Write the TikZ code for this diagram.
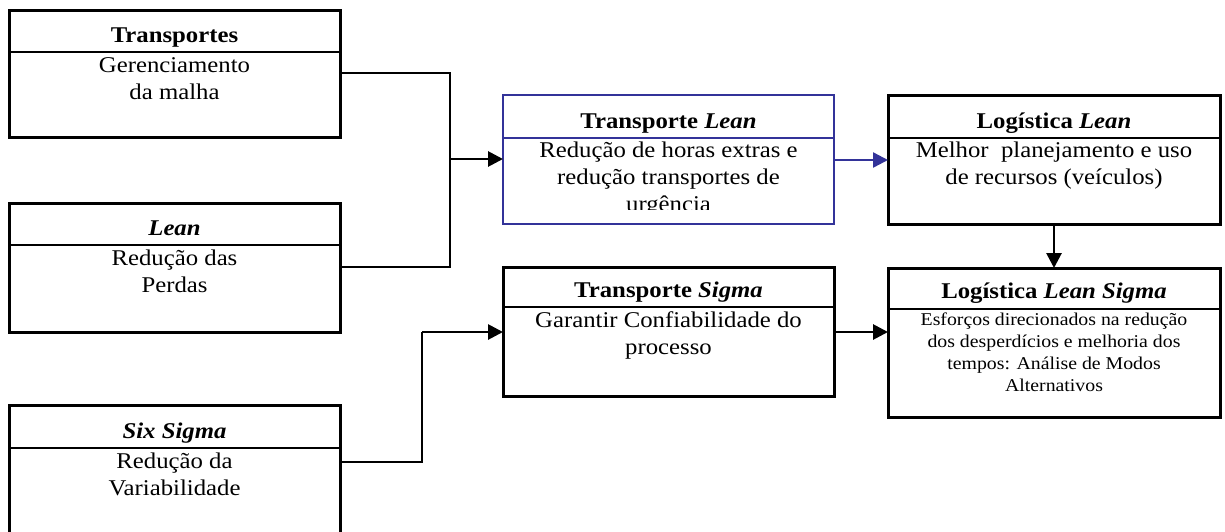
\documentclass[tikz,border=0pt]{standalone}
\usepackage{fontspec}
\setmainfont{Liberation Serif}[FakeStretch=1.1]
\usetikzlibrary{arrows.meta}
\definecolor{navy}{RGB}{51,51,153}
\tikzset{
  box/.style={draw, line width=3pt, fill=white, inner sep=0pt, outer sep=0pt, anchor=north west},
  divider/.style={line width=2.2pt},
  title/.style={anchor=base, inner sep=0pt, font=\fontsize{22.5}{27}\selectfont\bfseries},
  body/.style={anchor=base, inner sep=0pt, font=\fontsize{22.5}{27}\selectfont},
  smallbody/.style={anchor=base, inner sep=0pt, font=\fontsize{18}{22}\selectfont},
  conn/.style={line width=2.8pt, line join=miter},
  arr/.style={conn, -{Triangle[length=15pt,width=15pt]}}
}
\newcommand{\lines}[1]{\parbox[t]{320pt}{\centering #1}}
\begin{document}
\begin{tikzpicture}[x=1pt,y=-1pt]
\clip (0,0) rectangle (1225,531);

% left column: three source boxes
\node[box, minimum width=331pt, minimum height=127pt] (transp) at (9,10) {};
\draw[divider] (transp.west |- 0,52) -- (transp.east |- 0,52);
\node[title] (transpT) at (174.5,42) {Transportes};
\node[body] (transpB) at (174.5,72) {\lines{Gerenciamento\\da malha}};

\node[box, minimum width=331pt, minimum height=129pt] (lean) at (9,203) {};
\draw[divider] (lean.west |- 0,245) -- (lean.east |- 0,245);
\node[title] (leanT) at (174.5,235) {\itshape Lean};
\node[body] (leanB) at (174.5,265) {\lines{Redução das\\Perdas}};

\node[box, minimum width=331pt, minimum height=160pt] (six) at (9,405) {};
\draw[divider] (six.west |- 0,448) -- (six.east |- 0,448);
\node[title] (sixT) at (174.5,438) {\itshape Six Sigma};
\node[body] (sixB) at (174.5,468) {\lines{Redução da\\Variabilidade}};

% middle column
\node[box, draw=navy, line width=2.4pt, minimum width=331pt, minimum height=129pt] (tlean) at (503,95) {};
\draw[divider, navy] (tlean.west |- 0,138) -- (tlean.east |- 0,138);
\node[title] (tleanT) at (668.5,128) {Transporte \textit{Lean}};
\begin{scope}
  \clip (505,139) rectangle (832,209);
  \node[body] (tleanB) at (668.5,157) {\lines{Redução de horas extras e\\redução transportes de\\urgência}};
\end{scope}

\node[box, minimum width=331pt, minimum height=129pt] (tsigma) at (503,267) {};
\draw[divider] (tsigma.west |- 0,307) -- (tsigma.east |- 0,307);
\node[title] (tsigmaT) at (668.5,297) {Transporte \textit{Sigma}};
\node[body] (tsigmaB) at (668.5,327) {\lines{Garantir Confiabilidade do\\processo}};

% right column
\node[box, minimum width=332pt, minimum height=129pt] (llean) at (888,95) {};
\draw[divider] (llean.west |- 0,138) -- (llean.east |- 0,138);
\node[title] (lleanT) at (1054,128) {Logística \textit{Lean}};
\node[body] (lleanB) at (1054,157) {\lines{Melhor\ \ planejamento e uso\\de recursos (veículos)}};

\node[box, minimum width=332pt, minimum height=149pt] (lsigma) at (888,268) {};
\draw[divider] (lsigma.west |- 0,309) -- (lsigma.east |- 0,309);
\node[title] (lsigmaT) at (1054,298) {Logística \textit{Lean Sigma}};
\node[smallbody] (lsigmaB) at (1054,325) {\lines{Esforços direcionados na redução\\dos desperdícios e melhoria dos\\tempos: Análise de Modos\\Alternativos}};

% connectors
\coordinate (jtop) at (450,73);
\coordinate (jbot) at (450,267);
\coordinate (jmid) at (450,159);
\coordinate (sixout) at (422,462);
\coordinate (sixup) at (422,332);
\coordinate (blue) at (0,160);
\coordinate (mid) at (0,332);

\draw[conn] (transp.east |- jtop) -- (jtop) -- (jbot) -- (lean.east |- jbot);
\draw[arr] (jmid) -- (tlean.west |- jmid);
\draw[conn] (six.east |- sixout) -- (sixout) -- (sixup);
\draw[arr] (sixup) -- (tsigma.west |- sixup);
\draw[arr, navy, line width=2.4pt] (tlean.east |- blue) -- (llean.west |- blue);
\draw[arr] (tsigma.east |- mid) -- (lsigma.west |- mid);
\draw[arr] (llean.south) -- (lsigma.north);
\end{tikzpicture}
\end{document}
